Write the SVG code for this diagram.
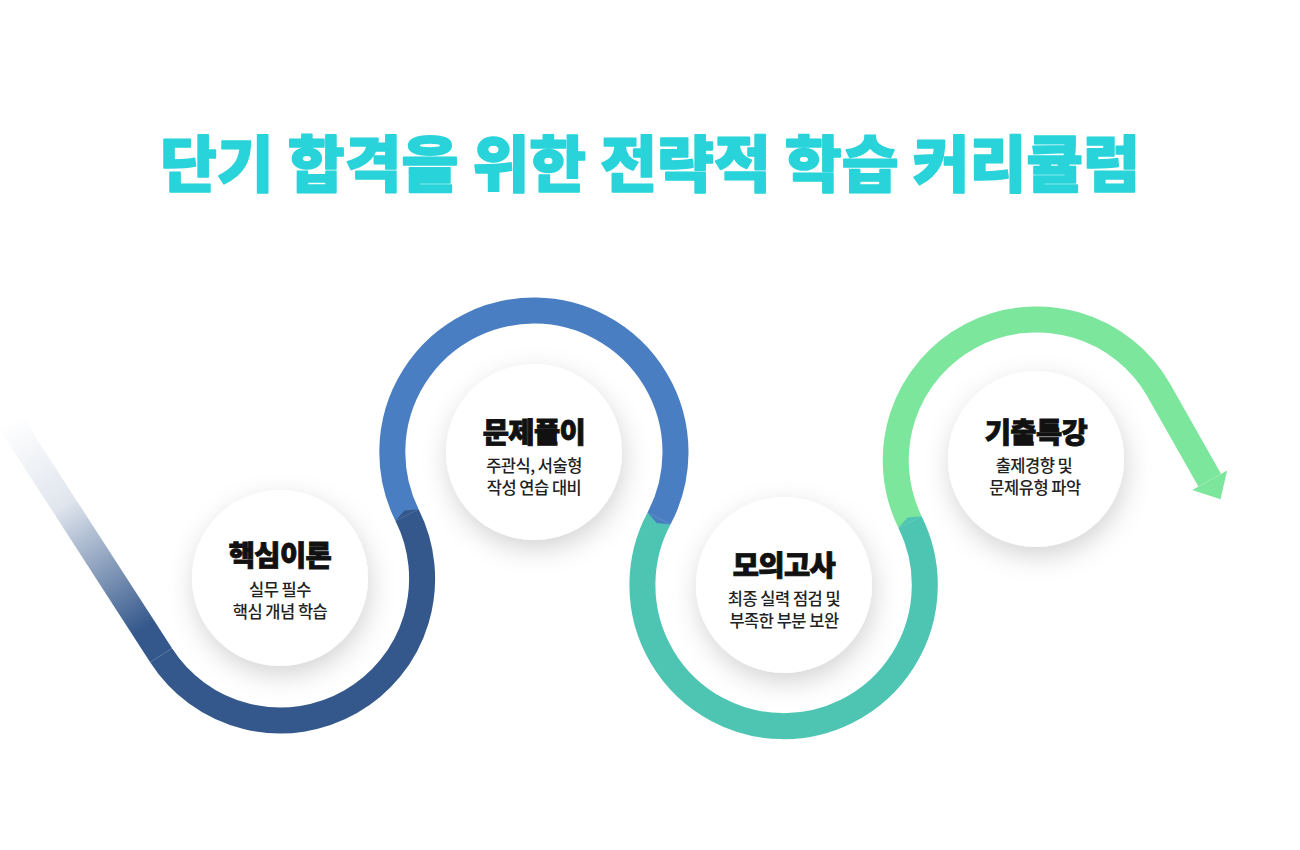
<svg xmlns="http://www.w3.org/2000/svg" width="1300" height="850" viewBox="0 0 1300 850">
  <style>
    .title { font-family: "Noto Sans CJK KR", "Noto Sans", sans-serif; font-weight: 900; font-size: 61px; fill: #29d3da; stroke: #29d3da; stroke-width: 1.6px; stroke-linejoin: round; }
    .ntitle { font-family: "Noto Sans CJK KR", "Noto Sans", sans-serif; font-weight: 900; font-size: 28.5px; fill: #111; stroke: #111; stroke-width: 0.9px; letter-spacing: -0.6px; }
    .nsub { font-family: "Noto Sans CJK KR", "Noto Sans", sans-serif; font-weight: 500; font-size: 16.5px; fill: #222; letter-spacing: -0.5px; }
    .seg { fill: none; stroke-width: 26; stroke-linecap: butt; }
    .circ { fill: #ffffff; filter: url(#shadow); }
  </style>
  <defs>
    <linearGradient id="fade" gradientUnits="userSpaceOnUse" x1="20" y1="415" x2="150" y2="625">
      <stop offset="0" stop-color="#34588b" stop-opacity="0"/>
      <stop offset="0.4" stop-color="#34588b" stop-opacity="0.15"/>
      <stop offset="1" stop-color="#34588b" stop-opacity="1"/>
    </linearGradient>
    <filter id="shadow" x="-40%" y="-40%" width="180%" height="180%">
      <feGaussianBlur in="SourceAlpha" stdDeviation="13"/>
      <feOffset dx="2" dy="9" result="b"/>
      <feFlood flood-color="#000" flood-opacity="0.17"/>
      <feComposite in2="b" operator="in"/>
      <feMerge><feMergeNode/><feMergeNode in="SourceGraphic"/></feMerge>
    </filter>
  </defs>
  <rect width="1300" height="850" fill="#ffffff"/>

  <text class="title" x="650" y="187" text-anchor="middle" textLength="980" lengthAdjust="spacingAndGlyphs">단기 합격을 위한 전략적 학습 커리큘럼</text>

  <g id="connectors">
    <path class="seg" stroke="url(#fade)" d="M -20 375 L 161.1 655.3"/>
    <path class="seg" stroke="#7be69c" d="M 910 522 A 140.85 140.85 0 0 1 1158.5 389.7 L 1209.7 480.2"/>
    <polygon fill="#7be69c" points="1227.1,470.4 1220.5,499.3 1192.3,490.0"/>
    <path class="seg" stroke="#4ec5b2" d="M 659 518.5 A 141.2 141.2 0 1 0 910 522"/>
    <path class="seg" stroke="#4a7ec3" d="M 407 515 A 141.6 141.6 0 1 1 659 518.5"/>
    <path class="seg" stroke="#34588b" d="M 161.1 655.3 A 141.75 141.75 0 0 0 407 515"/>
    <polygon fill="#34588b" points="418.6,509.2 404.5,510.5 395.4,520.8"/>
    <polygon fill="#4a7ec3" points="670.5,524.6 656.7,522.9 647.5,512.4"/>
    <polygon fill="#4ec5b2" points="921.6,516.2 907.8,517.5 898.4,527.8"/>
  </g>

  <g id="node1">
    <circle class="circ" cx="280" cy="578" r="88"/>
    <text class="ntitle" x="280" y="566" text-anchor="middle">핵심이론</text>
    <text class="nsub" x="280" y="596" text-anchor="middle">실무 필수</text>
    <text class="nsub" x="280" y="618" text-anchor="middle">핵심 개념 학습</text>
  </g>
  <g id="node2">
    <circle class="circ" cx="534" cy="452" r="88"/>
    <text class="ntitle" x="534" y="443" text-anchor="middle">문제풀이</text>
    <text class="nsub" x="534" y="472" text-anchor="middle">주관식, 서술형</text>
    <text class="nsub" x="534" y="494" text-anchor="middle">작성 연습 대비</text>
  </g>
  <g id="node3">
    <circle class="circ" cx="784" cy="585" r="88"/>
    <text class="ntitle" x="784" y="576" text-anchor="middle">모의고사</text>
    <text class="nsub" x="784" y="605" text-anchor="middle">최종 실력 점검 및</text>
    <text class="nsub" x="784" y="627" text-anchor="middle">부족한 부분 보완</text>
  </g>
  <g id="node4">
    <circle class="circ" cx="1036" cy="459" r="88"/>
    <text class="ntitle" x="1036" y="443" text-anchor="middle">기출특강</text>
    <text class="nsub" x="1034" y="472" text-anchor="middle">출제경향 및</text>
    <text class="nsub" x="1035" y="494" text-anchor="middle">문제유형 파악</text>
  </g>
</svg>
